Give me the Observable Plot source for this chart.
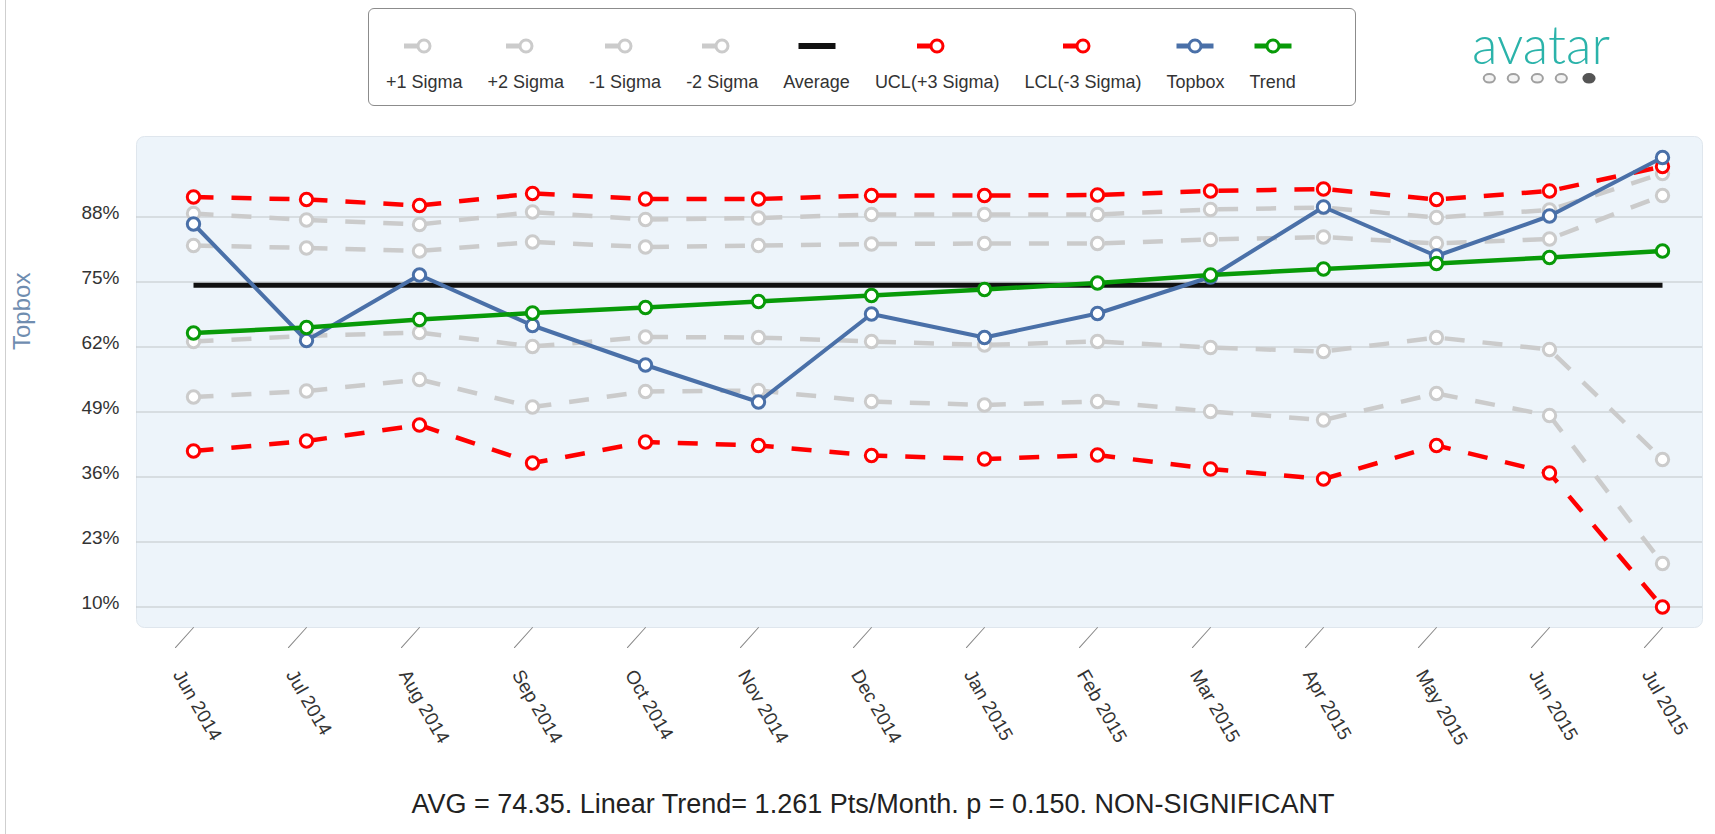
<!DOCTYPE html>
<html>
<head>
<meta charset="utf-8">
<script src="https://cdn.jsdelivr.net/npm/d3@7"></script>
<script src="https://cdn.jsdelivr.net/npm/@observablehq/plot@0.6"></script>
<style>
  body { margin: 0; background: #fff; font-family: "Liberation Sans", Arial, sans-serif; }
  #page { position: relative; width: 1715px; height: 834px; overflow: hidden; background: #fff; }
  #edge { position: absolute; left: 5px; top: 0; width: 1px; height: 834px; background: #cfcfcf; }
  #legend { position: absolute; left: 368px; top: 8px; width: 986px; height: 96px; border: 1.5px solid #8c8c8c; border-radius: 6px; box-sizing: content-box; }
  #legend .items { position: absolute; left: 17px; top: 29px; display: flex; gap: 25px; }
  .item { display: flex; flex-direction: column; align-items: center; }
  .item svg { display: block; }
  .item .lab { margin-top: 18px; font-size: 18px; line-height: 20px; color: #333; white-space: nowrap; }
  #logo { position: absolute; left: 1460px; top: 10px; }
  #chart { position: absolute; left: 0; top: 120px; }
  #caption { position: absolute; left: 0; top: 788px; width: 1715px; padding-left: 31px; box-sizing: border-box; text-align: center; font-size: 27px; line-height: 32px; color: #222; white-space: nowrap; }
</style>
</head>
<body>
<div id="page">
  <div id="edge"></div>
  <div id="legend"><div class="items"></div></div>
  <svg id="logo" width="170" height="80">
    <text x="12" y="54" font-family="Lato, 'Open Sans', sans-serif" font-weight="300" font-size="54" fill="#2bb3aa" textLength="138" lengthAdjust="spacingAndGlyphs">avatar</text>
    <ellipse cx="29.3" cy="68.3" rx="5.6" ry="4.3" fill="#f3f3f3" stroke="#a0a0a0" stroke-width="2"/>
    <ellipse cx="53.3" cy="68.3" rx="5.6" ry="4.3" fill="#f3f3f3" stroke="#a0a0a0" stroke-width="2"/>
    <ellipse cx="77.3" cy="68.3" rx="5.6" ry="4.3" fill="#f3f3f3" stroke="#a0a0a0" stroke-width="2"/>
    <ellipse cx="101.3" cy="68.3" rx="5.6" ry="4.3" fill="#f3f3f3" stroke="#a0a0a0" stroke-width="2"/>
    <ellipse cx="129" cy="68.3" rx="5.6" ry="4.3" fill="#555" stroke="#555" stroke-width="2"/>
  </svg>
  <div id="chart"></div>
  <div id="caption">AVG = 74.35. Linear Trend= 1.261 Pts/Month. p = 0.150. NON-SIGNIFICANT</div>
</div>
<script>
// ---- data ----
const months = ["Jun 2014","Jul 2014","Aug 2014","Sep 2014","Oct 2014","Nov 2014","Dec 2014",
                "Jan 2015","Feb 2015","Mar 2015","Apr 2015","May 2015","Jun 2015","Jul 2015"];
const plus1Sigma  = [82.3, 81.8, 81.2, 83.0, 82.0, 82.3, 82.6, 82.7, 82.7, 83.5, 84.0, 82.7, 83.6, 92.3];
const plus2Sigma  = [88.7, 87.4, 86.5, 89.0, 87.5, 87.8, 88.5, 88.5, 88.5, 89.5, 89.9, 87.9, 89.4, 96.7];
const minus1Sigma = [63.1, 64.2, 64.9, 62.1, 64.0, 63.9, 63.1, 62.4, 63.1, 61.9, 61.1, 63.9, 61.5, 39.5];
const minus2Sigma = [52.0, 53.2, 55.5, 50.0, 53.1, 53.3, 51.1, 50.4, 51.1, 49.1, 47.4, 52.7, 48.3, 18.7];
const average = 74.35;
const ucl = [92.0, 91.5, 90.3, 92.7, 91.6, 91.6, 92.3, 92.3, 92.4, 93.2, 93.6, 91.5, 93.2, 98.1];
const lcl = [41.2, 43.2, 46.4, 38.8, 43.0, 42.3, 40.3, 39.6, 40.4, 37.6, 35.6, 42.3, 36.8, 10.0];
const topbox = [86.6, 63.3, 76.4, 66.3, 58.4, 51.0, 68.6, 63.9, 68.7, 76.0, 90.0, 80.2, 88.2, 99.9];
const trend  = [64.8, 65.9, 67.5, 68.8, 69.9, 71.1, 72.3, 73.5, 74.8, 76.4, 77.6, 78.7, 79.9, 81.2];
const yTicks = [10, 23, 36, 49, 62, 75, 88];

// ---- series styling ----
const GRAY = "#cbcbcb", RED = "#ff0000", BLUE = "#4a70a8", GREEN = "#089a08", BLACK = "#111111";
const DASH = "20,18";
const series = [
  {name: "+1 Sigma", values: plus1Sigma, color: GRAY, dash: DASH, width: 4.5, marker: true},
  {name: "+2 Sigma", values: plus2Sigma, color: GRAY, dash: DASH, width: 4.5, marker: true},
  {name: "-1 Sigma", values: minus1Sigma, color: GRAY, dash: DASH, width: 4.5, marker: true},
  {name: "-2 Sigma", values: minus2Sigma, color: GRAY, dash: DASH, width: 4.5, marker: true},
  {name: "Average", values: months.map(() => average), color: BLACK, dash: null, width: 5, marker: false},
  {name: "UCL(+3 Sigma)", values: ucl, color: RED, dash: DASH, width: 4.5, marker: true},
  {name: "LCL(-3 Sigma)", values: lcl, color: RED, dash: DASH, width: 4.5, marker: true},
  {name: "Topbox", values: topbox, color: BLUE, dash: null, width: 4, marker: true},
  {name: "Trend", values: trend, color: GREEN, dash: null, width: 4.5, marker: true}
];

// ---- legend ----
const items = document.querySelector("#legend .items");
for (const s of series) {
  const it = document.createElement("div");
  it.className = "item";
  const ns = "http://www.w3.org/2000/svg";
  const svg = document.createElementNS(ns, "svg");
  svg.setAttribute("width", 40); svg.setAttribute("height", 16);
  const ln = document.createElementNS(ns, "line");
  ln.setAttribute("x1", s.dash ? 0 : 1.5); ln.setAttribute("x2", s.dash ? 20 : 38.5);
  ln.setAttribute("y1", 8); ln.setAttribute("y2", 8);
  ln.setAttribute("stroke", s.color); ln.setAttribute("stroke-width", s.marker ? 5 : 6);
  svg.appendChild(ln);
  if (s.marker) {
    const c = document.createElementNS(ns, "circle");
    c.setAttribute("cx", 20); c.setAttribute("cy", 8); c.setAttribute("r", 6);
    c.setAttribute("fill", "#fff"); c.setAttribute("stroke", s.color); c.setAttribute("stroke-width", 3);
    svg.appendChild(c);
  }
  const lab = document.createElement("div");
  lab.className = "lab"; lab.textContent = s.name;
  it.appendChild(svg); it.appendChild(lab);
  items.appendChild(it);
}

// ---- chart ----
const tickShape = {draw(context, l) { context.moveTo(0, 0); context.lineTo(0, -l); }};

const seriesMarks = series.flatMap(s => {
  const rows = months.map((m, i) => ({month: m, value: s.values[i]}));
  const marks = [Plot.line(rows, {
    x: "month", y: "value", stroke: s.color, strokeWidth: s.width,
    strokeDasharray: s.dash || undefined, strokeLinecap: "butt", strokeLinejoin: "round"
  })];
  if (s.marker) marks.push(Plot.dot(rows, {
    x: "month", y: "value", r: 6.2, fill: "#ffffff", stroke: s.color, strokeWidth: 3
  }));
  return marks;
});

const chart = Plot.plot({
  width: 1715, height: 650,
  marginTop: 16, marginBottom: 143, marginLeft: 136, marginRight: 13,
  style: {fontFamily: '"Liberation Sans", Arial, sans-serif', background: "transparent", overflow: "visible"},
  x: {type: "point", domain: months, padding: 0, insetLeft: 57, insetRight: 40, axis: null},
  y: {type: "linear", domain: [5.9, 104.1]},
  marks: [
    Plot.frame({fill: "#edf4fa", stroke: "#dfe6ed", rx: 8}),
    Plot.ruleY(yTicks, {stroke: "#c2c5c8", strokeWidth: 1.2}),
    Plot.vector(months, {x: d => d, frameAnchor: "bottom", length: 27, rotate: 222, anchor: "start",
      stroke: "#888", strokeWidth: 1, shape: tickShape}),
    Plot.text(months, {x: d => d, frameAnchor: "bottom", text: d => d, rotate: 60, textAnchor: "start",
      lineAnchor: "bottom", dx: -21, dy: 47, fontSize: 19, fill: "#333"}),
    Plot.axisY(yTicks, {tickSize: 0, tickPadding: 17, tickFormat: d => d + "%", fontSize: 19, dy: -4,
      fill: "#333", label: null}),
    Plot.text(["Topbox"], {frameAnchor: "left", text: d => d, dx: -114, dy: -32, rotate: -90,
      fontSize: 24, fill: "#6f8db0"}),
    ...seriesMarks
  ]
});
document.getElementById("chart").appendChild(chart);
</script>
</body>
</html>
